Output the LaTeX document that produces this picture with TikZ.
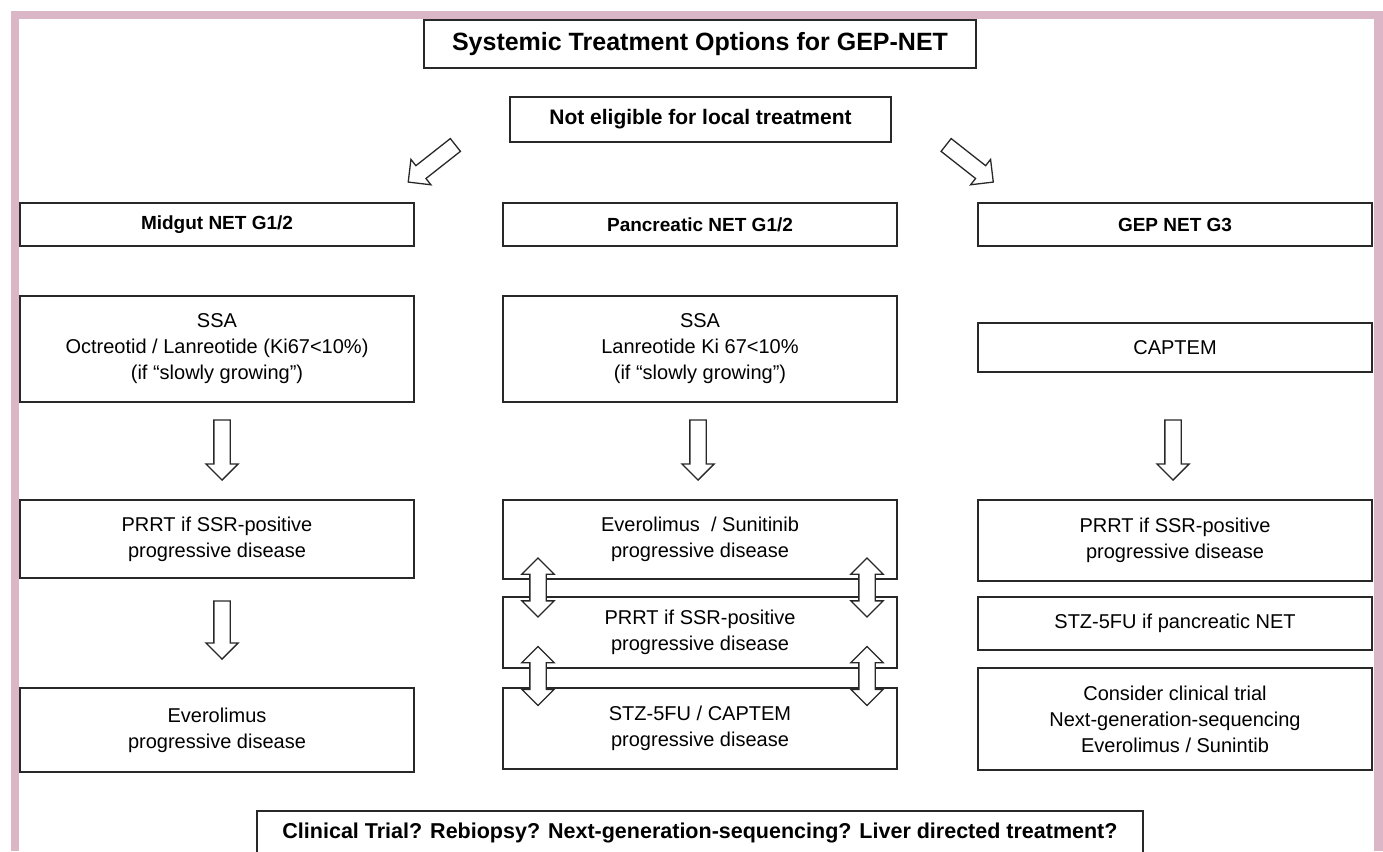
\documentclass[tikz,border=0pt]{standalone}
\usepackage{fontspec}
\setmainfont{Liberation Sans}
\usetikzlibrary{shapes.arrows}
\definecolor{pinkframe}{RGB}{218,182,199}
\definecolor{lineg}{RGB}{40,40,40}
\begin{document}
\begin{tikzpicture}[x=1pt,y=-1pt,
  box/.style={draw=lineg, line width=1.4pt, align=center, inner sep=0pt,
    font=\fontsize{20}{26}\selectfont, text=black},
  hdr/.style={box, font=\bfseries\fontsize{19}{23}\selectfont},
  blk/.style={draw=lineg, line width=1.3pt, fill=white, inner xsep=0pt,
    inner ysep=7.5pt, minimum width=0pt},
  sarr/.style={blk, single arrow, single arrow head extend=8pt, minimum height=60pt},
  darr/.style={blk, double arrow, double arrow head extend=8pt, minimum height=59pt},
]
\useasboundingbox (0,0) rectangle (1383,851);
\clip (0,0) rectangle (1383,851);
% frame
\fill[pinkframe] (11,11) rectangle (1383,19);
\fill[pinkframe] (11,11) rectangle (19,851);
\fill[pinkframe] (1374,11) rectangle (1383,851);

% title rows
\node[hdr, font=\bfseries\fontsize{25}{30}\selectfont, minimum width=552pt, minimum height=48pt] (title) at (700,44) {Systemic Treatment Options for GEP-NET};
\node[hdr, font=\bfseries\fontsize{21}{26}\selectfont, minimum width=381pt, minimum height=45pt] (elig) at (700.5,119.5) {Not eligible for local treatment};

% headers
\node[hdr, minimum width=394pt, minimum height=43pt] (h1) at (217,224.5) {Midgut NET G1/2};
\node[hdr, minimum width=394pt, minimum height=43pt] (h2) at (700,224.5) {Pancreatic NET G1/2};
\node[hdr, minimum width=394pt, minimum height=43pt] (h3) at (1175,224.5) {GEP NET G3};

% row 2
\node[box, minimum width=394pt, minimum height=106pt] (ssa1) at (217,349) {SSA\\Octreotid / Lanreotide (Ki67<10\%)\\(if “slowly growing”)};
\node[box, minimum width=394pt, minimum height=106pt] (ssa2) at (700,349) {SSA\\Lanreotide Ki 67<10\%\\(if “slowly growing”)};
\node[box, minimum width=394pt, minimum height=49pt] (cap3) at (1175,347.5) {CAPTEM};

% row 3
\node[box, minimum width=394pt, minimum height=78pt] (prrt1) at (217,539) {PRRT if SSR-positive\\progressive disease};
\node[box, minimum width=394pt, minimum height=79pt] (evsu2) at (700,539.5) {Everolimus~ / Sunitinib\\progressive disease};
\node[box, minimum width=394pt, minimum height=81pt] (prrt3) at (1175,540.5) {PRRT if SSR-positive\\progressive disease};

% lower rows
\node[box, minimum width=394pt, minimum height=84pt] (ever1) at (217,730) {Everolimus\\progressive disease};
\node[box, minimum width=394pt, minimum height=71pt] (prrt2) at (700,632.5) {PRRT if SSR-positive\\progressive disease};
\node[box, minimum width=394pt, minimum height=81pt] (stz2) at (700,728.5) {STZ-5FU / CAPTEM\\progressive disease};
\node[box, minimum width=394pt, minimum height=53pt] (stz3) at (1175,623.5) {STZ-5FU if pancreatic NET};
\node[box, minimum width=394pt, minimum height=102pt] (trial3) at (1175,719) {Consider clinical trial\\Next-generation-sequencing\\Everolimus / Sunintib};

% bottom
\node[hdr, font=\bfseries\fontsize{21.5}{26}\selectfont, minimum width=886pt, minimum height=44pt] (bottom) at (700,833) {Clinical Trial? Rebiopsy? Next-generation-sequencing? Liver directed treatment?};

% block arrows
\node[sarr, rotate=218.2] (aL) at (435,161) {};
\node[sarr, rotate=-38.2] (aR) at (966.5,161) {};
\node[sarr, rotate=-90] (d1) at (222,446) {};
\node[sarr, rotate=-90] (d2) at (698,446) {};
\node[sarr, rotate=-90] (d3) at (1173,446) {};
\node[sarr, rotate=-90, minimum height=58pt] (d4) at (222,626) {};
\node[darr, rotate=90] (b1) at (538,587.5) {};
\node[darr, rotate=90] (b2) at (867,587.5) {};
\node[darr, rotate=90] (b3) at (538,676) {};
\node[darr, rotate=90] (b4) at (867,676) {};
\end{tikzpicture}
\end{document}
